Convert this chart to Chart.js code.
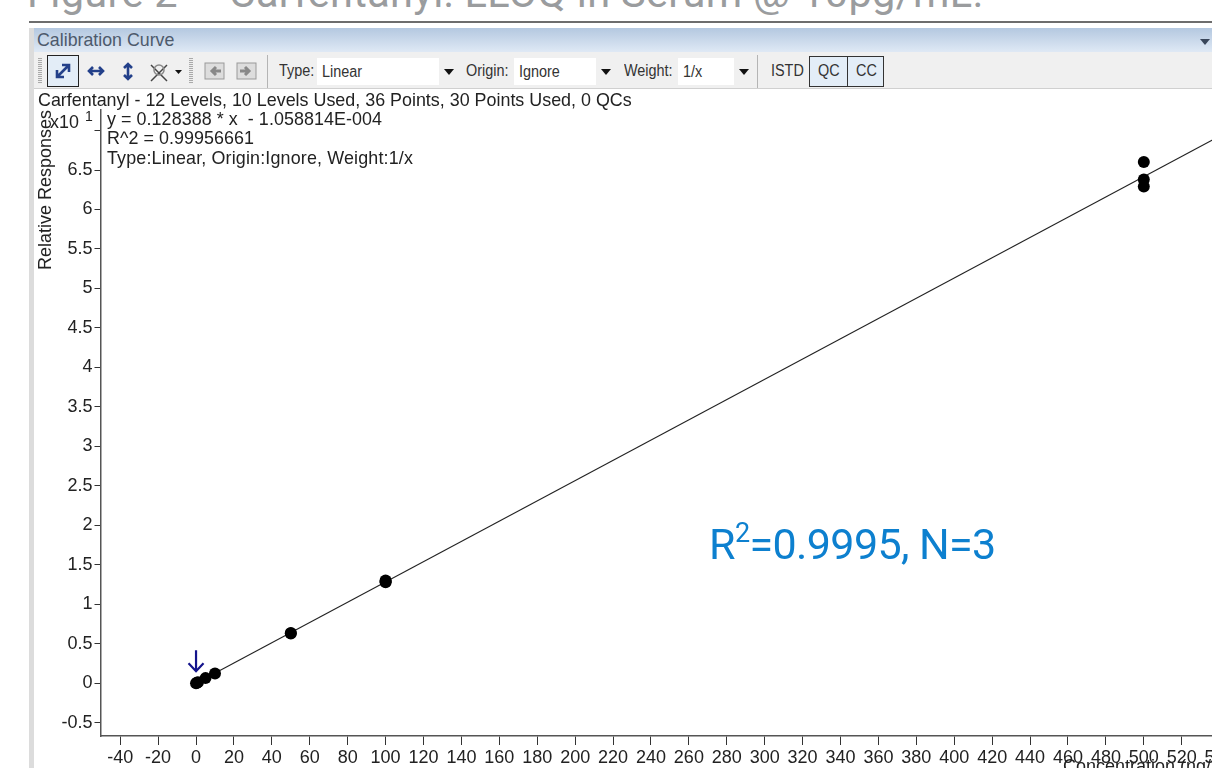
<!DOCTYPE html>
<html><head><meta charset="utf-8">
<script src="https://cdn.jsdelivr.net/npm/chart.js@4"></script>
<style>
html,body{margin:0;padding:0;background:#fff;width:1212px;height:768px;overflow:hidden;font-family:"Liberation Sans",Arial,sans-serif}
#stage{position:relative;width:1212px;height:768px;overflow:hidden}
.a{position:absolute;white-space:nowrap}
canvas{position:absolute;left:0;top:0}
.tb{font-size:16px;color:#333;transform:scaleX(.9);transform-origin:left center;top:62px}
.val{position:absolute;top:58px;height:27px;background:#fff;font-size:16px;color:#333;line-height:27px;padding-left:5px;box-sizing:border-box}
.val span{display:inline-block;transform:scaleX(.9);transform-origin:left center}
.dd{position:absolute;top:58px;height:27px;width:18px;background:#f0f0f0}
.dd:after{content:"";position:absolute;left:5px;top:11px;border:5px solid transparent;border-top:6px solid #111;border-bottom:0}
.sep{position:absolute;top:55px;height:33px;width:1px;background:#b4b4b4}
.grip{position:absolute;top:58px;height:26px;width:4px;background:repeating-linear-gradient(#aaa 0 1px,#eee 1px 2px)}
.t{font-size:17.9px;color:#222}
</style></head><body>
<div id="stage">
<div class="a" style="left:27px;top:-31px;font:400 41.5px/48px Roboto,sans-serif;color:#9a9c9e;letter-spacing:.3px">Figure 2 – <span style="margin-left:2px">Carfentanyl: LLOQ in Serum @ 10pg/mL.</span></div>
<div class="a" style="left:29px;top:21px;width:1183px;height:2px;background:#6d6d6d"></div>
<div class="a" style="left:29px;top:28px;width:5px;height:740px;background:#dcdcdc"></div>
<div class="a" style="left:34px;top:28px;width:1178px;height:24px;background:linear-gradient(#b4c8e0,#dfe9f5)"></div>
<div class="a" style="left:37px;top:30px;font-size:17.8px;color:#4d5a6c">Calibration Curve</div>
<div class="a" style="left:1200px;top:39px;border:5px solid transparent;border-top:6px solid #39465a;border-bottom:0"></div>
<div class="a" style="left:34px;top:52px;width:1178px;height:36px;background:#f0f0f0;border-bottom:1px solid #d0d0d0"></div>
<div class="grip" style="left:38px"></div>
<div class="a" style="left:47px;top:55px;width:32px;height:32px;box-sizing:border-box;border:1.5px solid #222;background:#e3edf7"></div>
<svg class="a" style="left:34px;top:52px" width="240" height="36" fill="none" stroke="#23408a" stroke-width="2.6">
<path d="M24 24L34 14M28 13h7v7M23 18v7h7"/>
<path d="M56 19h12M59 15l-4 4 4 4M65 15l4 4-4 4"/>
<path d="M94 13v13M90 16l4-4 4 4M90 23l4 4 4-4"/>
<g stroke="#444" stroke-width="1.5"><path d="M117 13l16 16M133 13l-16 16"/><circle cx="125" cy="18" r="5" stroke="#888"/></g>
<path d="M141 18h7l-3.500 4z" fill="#111" stroke="none"/>
<rect x="171" y="11" width="19" height="16" fill="#ddd" stroke="#999" stroke-width="1"/><path d="M187 19h-8M182 15l-4 4 4 4" stroke="#888" stroke-width="3"/>
<rect x="203" y="11" width="19" height="16" fill="#ddd" stroke="#999" stroke-width="1"/><path d="M206 19h8M211 15l4 4-4 4" stroke="#888" stroke-width="3"/>
</svg>
<div class="grip" style="left:189px"></div>
<div class="sep" style="left:267px"></div>
<div class="a tb" style="left:279px">Type:</div>
<div class="val" style="left:317px;width:122px"><span>Linear</span></div><div class="dd" style="left:439px"></div>
<div class="a tb" style="left:466px">Origin:</div>
<div class="val" style="left:514px;width:82px"><span>Ignore</span></div><div class="dd" style="left:596px"></div>
<div class="a tb" style="left:624px">Weight:</div>
<div class="val" style="left:678px;width:56px"><span>1/x</span></div><div class="dd" style="left:734px"></div>
<div class="sep" style="left:757px"></div>
<div class="a tb" style="left:771px">ISTD</div>
<div class="a" style="left:809px;top:56px;width:39px;height:31px;box-sizing:border-box;border:1.5px solid #333;background:#e3edf7"></div>
<div class="a" style="left:847px;top:56px;width:37px;height:31px;box-sizing:border-box;border:1.5px solid #333;background:#e3edf7"></div>
<div class="a tb" style="left:818px">QC</div>
<div class="a tb" style="left:856px">CC</div>
<canvas id="c" width="1248" height="800" style="width:1248px;height:800px"></canvas>
<div class="a t" style="left:38px;top:90px">Carfentanyl - 12 Levels, 10 Levels Used, 36 Points, 30 Points Used, 0 QCs</div>
<div class="a t" style="left:107px;top:109px;letter-spacing:.06px">y = 0.128388 * x &nbsp;- 1.058814E-004</div>
<div class="a t" style="left:107px;top:128px;letter-spacing:.06px">R^2 = 0.99956661</div>
<div class="a t" style="left:107px;top:148px;letter-spacing:.16px">Type:Linear, Origin:Ignore, Weight:1/x</div>
<div class="a t" style="left:50px;top:112px">x10</div>
<div class="a t" style="left:85px;top:108px;font-size:14px">1</div>
<div class="a" style="left:709px;top:519px;font:400 43px/50px Roboto,sans-serif;color:#0d80cf;letter-spacing:-.6px">R<sup style="font-size:27px;line-height:0;position:relative;vertical-align:baseline;top:-17px">2</sup>=0.9995, N=3</div>
</div>
<script>
const pointX = [0, 0.5, 1, 5, 10, 50, 50, 100, 100, 100, 500, 500, 500];
const pointY = [0, 0.005, 0.012, 0.065, 0.125, 0.63, 0.635, 1.28, 1.29, 1.3, 6.6, 6.38, 6.29];
const fitX = [0, 551];
const fitY = [-0.00001, 7.07];
const flaggedX = 0;
const xMin = -50.4, xMax = 551.8, yMin = -0.668, yMax = 7.26;

const arrow = {
  id: 'arrow',
  afterDatasetsDraw(ch) {
    const x = ch.scales.x.getPixelForValue(flaggedX);
    const y = ch.scales.y.getPixelForValue(pointY[0]);
    const g = ch.ctx; g.save();
    g.strokeStyle = '#14148c'; g.lineWidth = 2.2;
    g.beginPath();
    g.moveTo(x, y - 33); g.lineTo(x, y - 12);
    g.moveTo(x - 7.500, y - 20); g.lineTo(x, y - 12); g.lineTo(x + 7.500, y - 20);
    g.stroke(); g.restore();
  }
};
new Chart(document.getElementById('c'), {
  type: 'scatter',
  data: { datasets: [
    { data: fitX.map((x, i) => ({x, y: fitY[i]})), showLine: true, borderColor: '#222', borderWidth: 1.1, pointRadius: 0, order: 2 },
    { data: pointX.map((x, i) => ({x, y: pointY[i]})), backgroundColor: '#000', borderColor: '#000', pointRadius: 6, borderWidth: 0, order: 1 }
  ]},
  plugins: [arrow],
  options: {
    responsive: false, animation: false, events: [],
    layout: { padding: { top: 110, left: 0, right: 0, bottom: 0 } },
    plugins: { legend: { display: false }, tooltip: { enabled: false } },
    scales: {
      x: {
        type: 'linear', min: xMin, max: xMax,
        afterFit(s) { s.height = 64; s.paddingRight = 0; s.paddingLeft = 0; },
        grid: { display: true, drawTicks: true, tickLength: 9, tickColor: '#333', drawOnChartArea: false },
        border: { color: '#555', width: 1.5 },
        title: { display: true, text: 'Concentration (ng/mL)', align: 'end', color: '#222', font: { family: 'Liberation Sans', size: 18 }, padding: { top: 0, bottom: 22 } },
        ticks: { stepSize: 20, includeBounds: false, autoSkip: false, maxRotation: 0, minRotation: 0, padding: 2, color: '#222', font: { family: 'Liberation Sans', size: 18 } }
      },
      y: {
        type: 'linear', min: yMin, max: yMax,
        afterFit(s) { s.width = 100.5; s.paddingTop = 0; s.paddingBottom = 0; },
        grid: { display: true, drawTicks: true, tickLength: 6, tickColor: '#333', drawOnChartArea: false },
        border: { color: '#555', width: 1.5 },
        title: { display: true, text: 'Relative Responses', align: 'end', color: '#222', font: { family: 'Liberation Sans', size: 18 }, padding: { top: 35, bottom: 0 } },
        ticks: { stepSize: 0.5, includeBounds: false, autoSkip: false, padding: 2, color: '#222', font: { family: 'Liberation Sans', size: 18 },
          callback: v => v === 7 ? '' : String(v) }
      }
    }
  }
});
</script>
</body></html>
